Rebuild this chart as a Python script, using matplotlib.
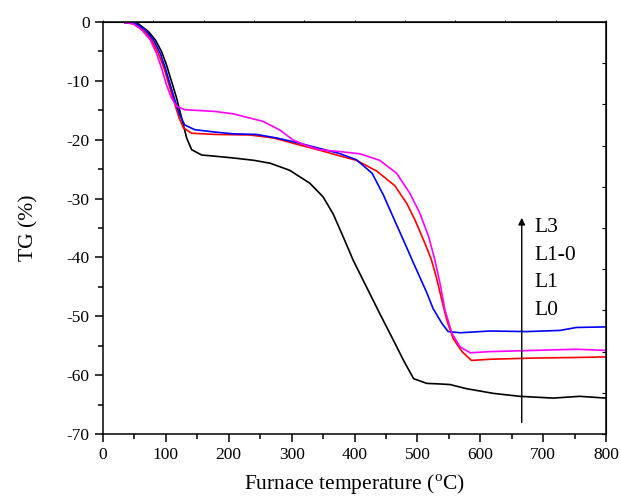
import numpy as np
import matplotlib
matplotlib.use("Agg")
import matplotlib.pyplot as plt

plt.rcParams['font.family'] = ['Liberation Serif', 'DejaVu Serif']
plt.rcParams['mathtext.fontset'] = 'custom'
plt.rcParams['mathtext.rm'] = 'Liberation Serif'
plt.rcParams['axes.unicode_minus'] = False

# data (temperature in C, TG in %)
t_l0 = [35, 56, 72, 83, 93, 101, 109, 117, 125, 133, 141, 157, 178, 207, 240, 266, 297,
        329, 350, 366, 382, 398, 419, 440, 462, 478, 494, 515, 536, 552, 578, 621, 663,
        716, 758, 800]
tg_l0 = [-0.1, -0.3, -1.6, -3.0, -5.0, -7.3, -10.1, -12.9, -16.3, -19.7, -21.7, -22.6,
         -22.8, -23.1, -23.5, -24.0, -25.2, -27.4, -29.7, -32.6, -36.5, -40.5, -45.0,
         -49.5, -54.1, -57.5, -60.6, -61.4, -61.5, -61.6, -62.3, -63.1, -63.6, -63.9,
         -63.6, -63.9]

t_l1 = [35, 48, 64, 77, 88, 97, 105, 113, 121, 128, 141, 178, 234, 271, 313, 345, 375,
        403, 435, 464, 483, 496, 512, 522, 530, 539, 547, 557, 571, 586, 616, 684, 753, 800]
tg_l1 = [-0.1, -0.3, -1.3, -3.0, -5.3, -7.8, -10.7, -13.5, -16.3, -18.0, -18.9, -19.1,
         -19.2, -19.7, -20.9, -21.8, -22.7, -23.5, -25.3, -27.8, -30.8, -33.6, -37.6,
         -40.3, -43.3, -47.3, -50.7, -53.8, -56.0, -57.5, -57.3, -57.1, -57.0, -56.9]

t_l3 = [35, 51, 67, 80, 91, 99, 107, 115, 122, 130, 146, 178, 207, 244, 276, 313, 345,
        375, 403, 428, 446, 465, 478, 494, 515, 525, 539, 549, 568, 616, 674, 727, 753, 800]
tg_l3 = [-0.1, -0.2, -1.3, -3.0, -5.3, -7.8, -10.7, -13.5, -15.8, -17.5, -18.3, -18.7,
         -19.0, -19.1, -19.7, -20.6, -21.5, -22.3, -23.4, -25.7, -29.4, -34.0, -37.1,
         -41.0, -46.0, -48.7, -51.2, -52.6, -52.8, -52.5, -52.6, -52.4, -51.9, -51.8]

t_l10 = [35, 48, 61, 75, 85, 93, 101, 109, 117, 130, 178, 207, 255, 282, 303, 324, 345,
         375, 409, 440, 467, 488, 504, 518, 528, 536, 544, 555, 568, 584, 616, 753, 800]
tg_l10 = [-0.1, -0.3, -1.3, -3.0, -5.3, -7.8, -10.7, -12.9, -14.3, -14.9, -15.2, -15.6,
          -16.9, -18.4, -20.1, -21.0, -21.7, -22.0, -22.4, -23.5, -25.7, -29.1, -32.5,
          -36.5, -40.5, -44.4, -49.0, -52.9, -55.2, -56.2, -56.0, -55.6, -55.8]

labels = ['L3', 'L1-0', 'L1', 'L0']

fig = plt.figure(figsize=(6.21, 5.0), dpi=100)
ax = fig.add_axes([103/621, 1-434/500, 503/621, 412/500])

ax.plot(t_l0, tg_l0, color='black', lw=1.2)
ax.plot(t_l1, tg_l1, color='red', lw=1.2)
ax.plot(t_l3, tg_l3, color='blue', lw=1.2)
ax.plot(t_l10, tg_l10, color='magenta', lw=1.2)

ax.set_xlim(0, 800)
ax.set_ylim(-70, 0)
ax.set_xticks(np.arange(0, 801, 100))
ax.set_xticks(np.arange(50, 800, 100), minor=True)
ax.set_yticks(np.arange(-70, 1, 10))
ax.set_yticks(np.arange(-65, 0, 10), minor=True)
ax.tick_params(which='major', direction='out', length=6, width=1.1, labelsize=12.5)
ax.tick_params(which='minor', direction='out', length=3.5, width=1.1)
for s in ax.spines.values():
    s.set_linewidth(1.1)

# opposite axes with their own tick spacing
top = ax.secondary_xaxis('top')
top.set_xticks(np.linspace(0, 800, 11))
top.tick_params(direction='out', length=1.5, width=0.8, labelsize=0)
top.set_xticklabels([])
right = ax.secondary_yaxis('right')
right.set_yticks(np.linspace(-70, 0, 11))
right.tick_params(direction='in', length=3, width=0.8)
right.set_yticklabels([])

ax.set_xlabel(r'Furnace temperature ($^{\rm o}$C)', fontsize=15.5, labelpad=7)
ax.set_ylabel('TG (%)', fontsize=15.5, labelpad=20)

ax.annotate('', xy=(666, -32.8), xytext=(666, -68.5),
            arrowprops=dict(arrowstyle='-|>', color='black', lw=1.0, mutation_scale=10))
for lab, yv in zip(labels, [-35, -39.7, -44.3, -49]):
    ax.text(686, yv, lab, fontsize=15.5, va='center', ha='left')

fig.savefig('out.png', dpi=100)
